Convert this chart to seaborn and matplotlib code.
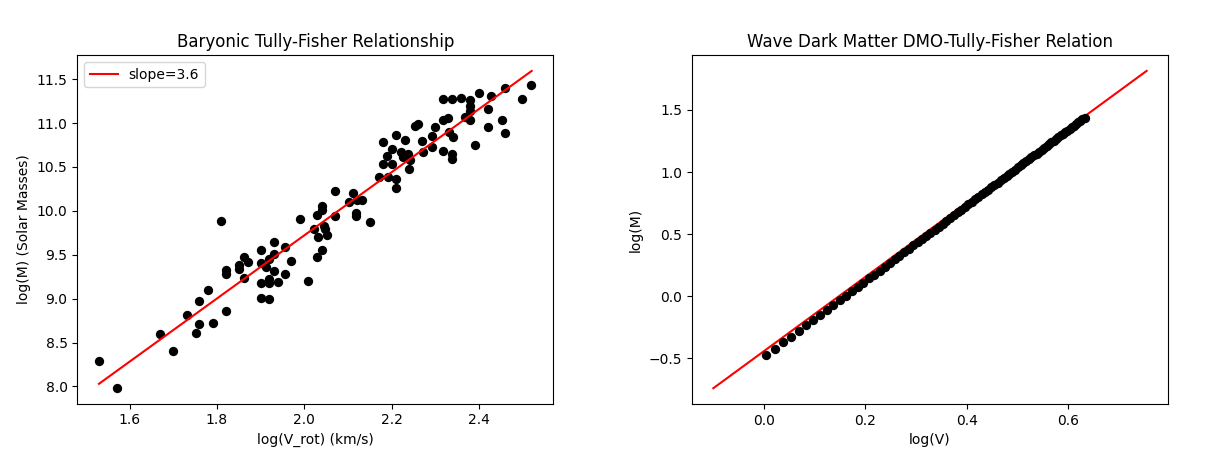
import numpy as np
import matplotlib
matplotlib.use("Agg")
import matplotlib.pyplot as plt
import seaborn as sns
import pandas as pd

# --- Baryonic Tully-Fisher data ---
log_vrot = [1.531, 1.571, 1.670, 1.700, 1.732, 1.760, 1.780, 1.760, 1.752, 1.790,
            1.821, 1.809, 1.821, 1.821, 1.850, 1.861, 1.870, 1.850, 1.861, 1.901,
            1.901, 1.901, 1.901, 1.920, 1.931, 1.931, 1.920, 1.912, 1.931, 1.920,
            1.939, 1.920, 1.956, 1.956, 1.969, 2.009, 1.990, 2.021, 2.029, 2.040,
            2.029, 2.040, 2.040, 2.032, 2.044, 2.047, 2.051, 2.070, 2.069, 2.101,
            2.111, 2.121, 2.131, 2.118, 2.118, 2.151, 2.170, 2.181, 2.188, 2.181,
            2.192, 2.200, 2.200, 2.210, 2.210, 2.210, 2.220, 2.226, 2.230, 2.237,
            2.240, 2.242, 2.253, 2.261, 2.270, 2.272, 2.291, 2.291, 2.300, 2.318,
            2.329, 2.318, 2.318, 2.338, 2.338, 2.338, 2.331, 2.340, 2.359, 2.378,
            2.380, 2.380, 2.368, 2.380, 2.390, 2.400, 2.421, 2.428, 2.421, 2.451,
            2.459, 2.459, 2.499, 2.519]
log_mass = [8.288, 7.985, 8.594, 8.408, 8.813, 8.976, 9.097, 8.711, 8.612, 8.722,
            8.855, 9.880, 9.324, 9.279, 9.381, 9.475, 9.418, 9.343, 9.241, 9.551,
            9.407, 9.173, 9.010, 8.995, 9.645, 9.514, 9.457, 9.361, 9.316, 9.222,
            9.188, 9.173, 9.589, 9.279, 9.430, 9.203, 9.903, 9.797, 9.475, 9.559,
            9.948, 10.050, 10.005, 9.702, 9.833, 9.797, 9.721, 9.937, 10.224, 10.099,
            10.201, 10.119, 10.127, 9.975, 9.937, 9.873, 10.391, 10.780, 10.629, 10.535,
            10.383, 10.535, 10.705, 10.868, 10.365, 10.263, 10.667, 10.610, 10.808, 10.649,
            10.478, 10.581, 10.970, 10.989, 10.792, 10.667, 10.856, 10.731, 10.959, 11.035,
            11.057, 10.678, 11.273, 11.273, 10.649, 10.592, 10.894, 10.845, 11.291, 11.262,
            11.197, 11.140, 11.072, 11.035, 10.754, 11.348, 11.159, 11.310, 10.959, 11.035,
            10.883, 11.405, 11.273, 11.432]
btf_fit_x = [1.53, 2.52]
btf_fit_y = [8.03, 11.594]

# --- Wave dark matter DMO relation ---
log_v = [0.0043, 0.0212, 0.0374, 0.0531, 0.0682, 0.0828, 0.0969, 0.1106, 0.1239, 0.1367,
         0.1492, 0.1614, 0.1732, 0.1847, 0.1959, 0.2068, 0.2175, 0.2279, 0.2380, 0.2480,
         0.2577, 0.2672, 0.2765, 0.2856, 0.2945, 0.3032, 0.3118, 0.3201, 0.3284, 0.3365,
         0.3444, 0.3522, 0.3598, 0.3674, 0.3747, 0.3820, 0.3892, 0.3962, 0.4031, 0.4099,
         0.4166, 0.4232, 0.4298, 0.4362, 0.4425, 0.4487, 0.4548, 0.4609, 0.4669, 0.4728,
         0.4786, 0.4843, 0.4900, 0.4955, 0.5011, 0.5065, 0.5119, 0.5172, 0.5224, 0.5276,
         0.5328, 0.5378, 0.5428, 0.5478, 0.5527, 0.5575, 0.5623, 0.5670, 0.5717, 0.5763,
         0.5809, 0.5855, 0.5899, 0.5944, 0.5988, 0.6031, 0.6075, 0.6117, 0.6160, 0.6201,
         0.6243, 0.6284, 0.6325]
log_m = [-0.473, -0.422, -0.372, -0.325, -0.279, -0.234, -0.191, -0.150, -0.109, -0.070,
         -0.032, 0.005, 0.041, 0.075, 0.110, 0.143, 0.175, 0.207, 0.238, 0.268,
         0.297, 0.326, 0.355, 0.382, 0.409, 0.436, 0.462, 0.487, 0.512, 0.537,
         0.561, 0.585, 0.608, 0.631, 0.653, 0.675, 0.697, 0.718, 0.739, 0.760,
         0.780, 0.801, 0.821, 0.840, 0.859, 0.878, 0.897, 0.915, 0.933, 0.951,
         0.969, 0.986, 1.004, 1.020, 1.037, 1.054, 1.070, 1.086, 1.102, 1.118,
         1.134, 1.149, 1.164, 1.179, 1.194, 1.209, 1.223, 1.238, 1.252, 1.266,
         1.280, 1.294, 1.307, 1.321, 1.334, 1.347, 1.361, 1.374, 1.387, 1.399,
         1.412, 1.424, 1.437]
dmo_fit_x = [-0.1, 0.755]
dmo_fit_y = [-0.74, 1.814]

fig = plt.figure(figsize=(12.29, 4.54), dpi=100)
ax1 = fig.add_axes([0.0629, 0.111, 0.3873, 0.7676])
ax2 = fig.add_axes([0.5628, 0.110, 0.3878, 0.7688])

# left panel - fit line drawn over the points
btf = pd.DataFrame({"x": log_vrot, "y": log_mass})
sns.scatterplot(data=btf, x="x", y="y", ax=ax1, color="black", s=45,
                linewidth=0, legend=False)
sns.lineplot(x=btf_fit_x, y=btf_fit_y, ax=ax1, color="red", lw=1.5,
             label="slope=3.6")
ax1.set_title("Baryonic Tully-Fisher Relationship")
ax1.set_xlabel("log(V_rot) (km/s)")
ax1.set_ylabel("log(M) (Solar Masses)")
ax1.set_xticks([1.6, 1.8, 2.0, 2.2, 2.4])
ax1.set_yticks([8.0, 8.5, 9.0, 9.5, 10.0, 10.5, 11.0, 11.5])
ax1.legend(loc="upper left")

# right panel - points sit on top of the line
dmo = pd.DataFrame({"x": log_v, "y": log_m})
sns.lineplot(x=dmo_fit_x, y=dmo_fit_y, ax=ax2, color="red", lw=1.5)
sns.scatterplot(data=dmo, x="x", y="y", ax=ax2, color="black", s=45,
                linewidth=0, legend=False, zorder=3)
ax2.set_title("Wave Dark Matter DMO-Tully-Fisher Relation")
ax2.set_xlabel("log(V)")
ax2.set_ylabel("log(M)")
ax2.set_xticks([0.0, 0.2, 0.4, 0.6])
ax2.set_yticks([-0.5, 0.0, 0.5, 1.0, 1.5])

fig.savefig("out.png", dpi=100)
